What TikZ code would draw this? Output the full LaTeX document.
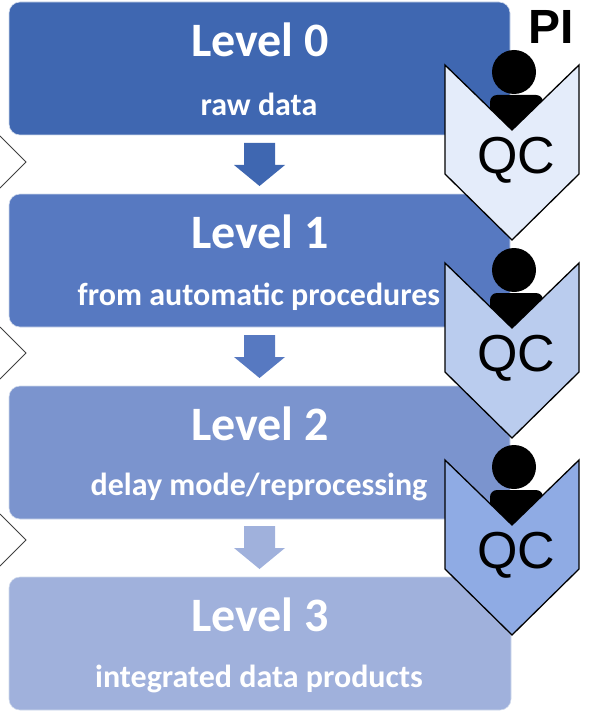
\documentclass[tikz,border=0pt]{standalone}
\usepackage{fontspec}
\setmainfont{Carlito}
\newfontfamily\arialfont{Liberation Sans}
\definecolor{lvA}{HTML}{3F67B1}
\definecolor{lvB}{HTML}{5779C1}
\definecolor{lvC}{HTML}{7B94CE}
\definecolor{lvD}{HTML}{A0B1DC}
\definecolor{chA}{HTML}{E4ECFA}
\definecolor{chB}{HTML}{BACCEE}
\definecolor{chC}{HTML}{8FABE4}
\tikzset{
  x=1pt,y=-1pt,
  levelbox/.style={rounded corners=11pt,draw=white!75!lvA,line width=.6pt},
  leveltitle/.style={text=white,font=\fontsize{48}{52}\selectfont\bfseries,inner sep=0pt},
  levelsub/.style={text=white,font=\fontsize{32}{36}\selectfont\bfseries,inner sep=0pt},
  qclabel/.style={text=black,font=\arialfont\fontsize{52}{56}\selectfont,inner sep=0pt},
  chevronline/.style={draw=black,line width=1.3pt,line join=miter},
  sidemark/.style={draw=black!75,line width=.8pt},
}
\newcommand{\downarrowshape}[2]{%
  \fill[#2] (244,#1) -- (275,#1) -- (275,#1+22) -- (285,#1+22) -- (259.5,#1+43) -- (234,#1+22) -- (244,#1+22) -- cycle;
}
\newcommand{\qcchevron}[3]{%
  \fill[black] (514,#1+7) circle (22);
  \fill[black,rounded corners=7pt] (490,#1+68) -- (490,#1+30) -- (543,#1+30) -- (543,#1+68) -- cycle;
  \path[fill=#2,chevronline] (445,#1) -- (512,#1+65) -- (579,#1) -- (579,#1+109) -- (512,#1+175) -- (445,#1+109) -- cycle;
  \node[qclabel] (#3) at (516,#1+95) {QC};
}
\begin{document}
\begin{tikzpicture}
\useasboundingbox (0,0) rectangle (590,714);
\begin{scope}
\clip (0,0) rectangle (590,714);
\draw[sidemark] (0,136) -- (26,162) -- (0,188);
\draw[sidemark] (0,327) -- (26,353) -- (0,379);
\draw[sidemark] (0,514) -- (26,540) -- (0,566);
\end{scope}
\fill[lvA,levelbox] (9,2) rectangle (510,135);
\fill[lvB,levelbox] (9,194) rectangle (510,327);
\fill[lvC,levelbox] (9,386) rectangle (510,519);
\fill[lvD,levelbox] (9,577) rectangle (511,710);
\node[leveltitle] (t0) at (260,40) {Level 0};
\node[levelsub] (s0) at (259,104) {raw data};
\node[leveltitle] (t1) at (260,232) {Level 1};
\node[levelsub] (s1) at (259,297) {from automatic procedures};
\node[leveltitle] (t2) at (260,424) {Level 2};
\node[levelsub] (s2) at (259,487) {delay mode/reprocessing};
\node[leveltitle] (t3) at (260,615) {Level 3};
\node[levelsub] (s3) at (259,679) {integrated data products};
\downarrowshape{143}{lvA}
\downarrowshape{335}{lvB}
\downarrowshape{526}{lvD}
\qcchevron{65}{chA}{qc0}
\qcchevron{263}{chB}{qc1}
\qcchevron{460}{chC}{qc2}
\node[text=black,inner sep=0pt,font=\arialfont\fontsize{48}{52}\selectfont\bfseries] (pi) at (551,27) {PI};
\end{tikzpicture}
\end{document}
